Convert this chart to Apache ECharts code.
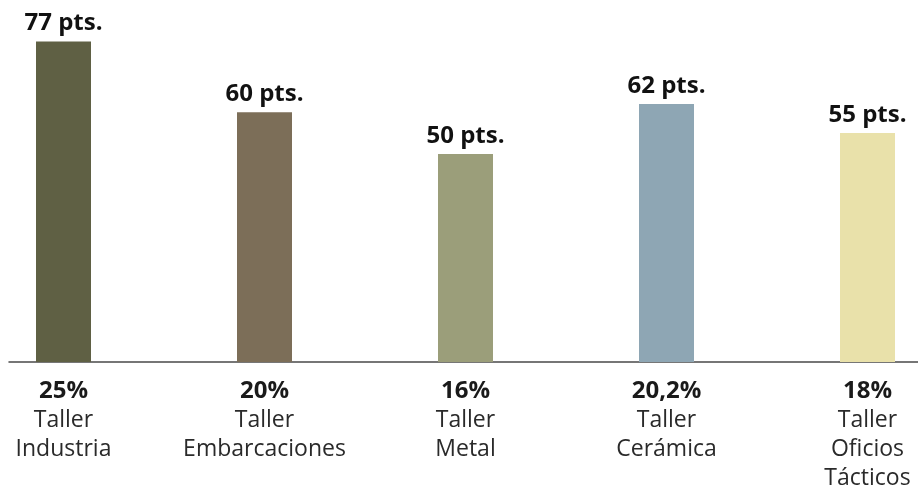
<!DOCTYPE html>
<html>
<head>
<meta charset="utf-8">
<script src="https://cdn.jsdelivr.net/npm/echarts@6/dist/echarts.min.js"></script>
<style>html,body{margin:0;padding:0;background:#fff}#c{width:918px;height:494px}</style>
</head>
<body>
<div id="c"></div>
<script>
const workshops = ['Taller\nIndustria', 'Taller\nEmbarcaciones', 'Taller\nMetal', 'Taller\nCerámica', 'Taller\nOficios\nTácticos'];
const percentages = ['25%', '20%', '16%', '20,2%', '18%'];
const points = [77, 60, 50, 62, 55];
const barColors = ['#5f6044', '#7c6e58', '#9b9e7a', '#8ea6b4', '#e9e1aa'];

const FONT = '"Open Sans", "Noto Sans", sans-serif';
const chart = echarts.init(document.getElementById('c'));
chart.setOption({
  animation: false,
  backgroundColor: '#ffffff',
  grid: [
    { left: -37, width: 1005, top: 29, bottom: 132, outerBoundsMode: 'none', containLabel: false },
    { left: 9, right: 0, top: 29, bottom: 132, outerBoundsMode: 'none', containLabel: false }
  ],
  xAxis: [
    {
      type: 'category', gridIndex: 0, data: workshops,
      axisLine: { show: false }, axisTick: { show: false },
      axisLabel: {
        margin: 15, interval: 0,
        formatter: (v, i) => '{p|' + percentages[i] + '}\n' + v.split('\n').map(s => '{n|' + s + '}').join('\n'),
        rich: {
          p: { fontFamily: FONT, fontSize: 24, fontWeight: 'bold', color: '#1a1a1a', lineHeight: 29 },
          n: { fontFamily: FONT, fontSize: 23, color: '#2a2a2a', lineHeight: 29 }
        }
      }
    },
    {
      type: 'value', gridIndex: 1, min: 0, max: 1,
      axisLine: { show: true, lineStyle: { color: '#4a4a4a', width: 1.5 } },
      axisTick: { show: false }, axisLabel: { show: false }, splitLine: { show: false }
    }
  ],
  yAxis: [
    { type: 'value', gridIndex: 0, min: 0, max: 80, show: false, splitLine: { show: false } },
    { type: 'value', gridIndex: 1, min: 0, max: 1, show: false, splitLine: { show: false } }
  ],
  series: [{
    type: 'bar', xAxisIndex: 0, yAxisIndex: 0,
    barWidth: 55,
    data: points.map((v, i) => ({ value: v, itemStyle: { color: barColors[i] } })),
    label: {
      show: true, position: 'top', distance: 6,
      formatter: p => p.value + ' pts.',
      fontFamily: FONT, fontSize: 24, fontWeight: 'bold', color: '#111'
    }
  }]
});
</script>
</body>
</html>
